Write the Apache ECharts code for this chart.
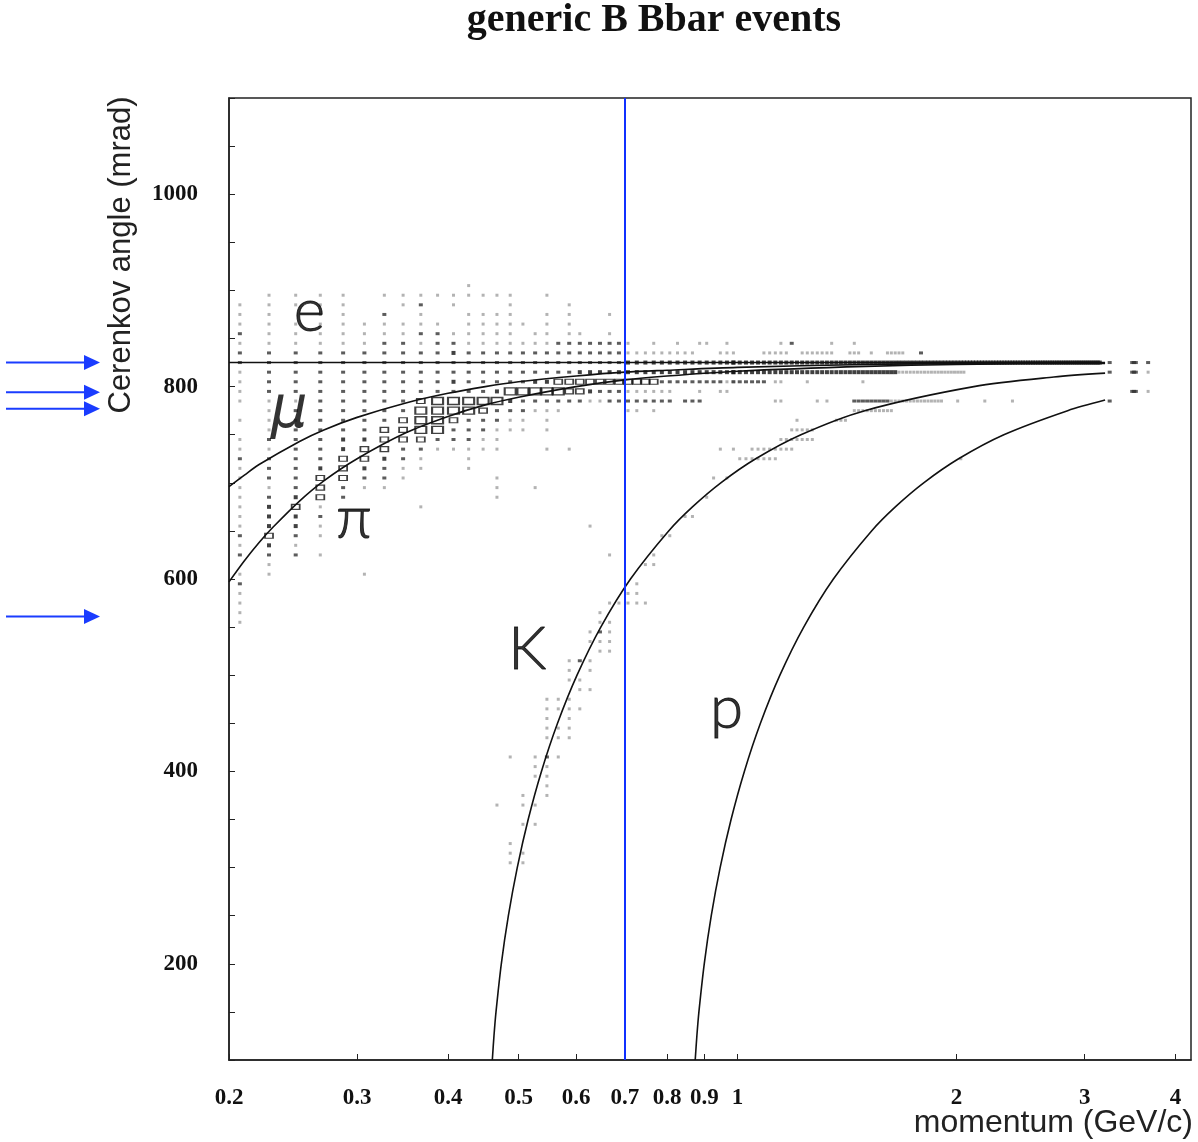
<!DOCTYPE html>
<html><head><meta charset="utf-8">
<script src="https://cdn.jsdelivr.net/npm/echarts@6/dist/echarts.min.js"></script>
<style>html,body{margin:0;padding:0;background:#fff}#c{width:1198px;height:1142px}</style>
</head><body><div id="c"></div>
<script>
// ---------------- text ----------------
const titleText = 'generic B Bbar events';
const yAxisTitle = 'Cerenkov angle (mrad)';
const xAxisTitle = 'momentum (GeV/c)';

// ---------------- axes ----------------
const xTickValues = [0.2, 0.3, 0.4, 0.5, 0.6, 0.7, 0.8, 0.9, 1, 2, 3, 4];
const yTickLabels = [200, 400, 600, 800, 1000];
const cutMomentum = 0.7;                 // blue vertical line
const arrowAngles = [825, 794, 777, 561]; // blue arrows at the left

// ---------------- expected Cerenkov angle curves ----------------
const eP     = [0.2, 3.15];
const eAngle = [825, 825];
const muP     = [0.2, 0.21, 0.22, 0.25, 0.27, 0.3, 0.35, 0.4, 0.45, 0.5, 0.6, 0.7, 0.8, 1.0, 1.5, 2, 3, 3.2];
const muAngle = [696, 708, 719, 743, 755, 768, 783, 793, 800, 805, 811, 815, 817, 820, 823, 824, 825, 825];
const piP     = [0.2, 0.21, 0.22, 0.23, 0.25, 0.27, 0.3, 0.35, 0.4, 0.45, 0.5, 0.6, 0.7, 0.8, 1.0, 1.5, 2, 3, 3.2];
const piAngle = [597, 619, 638, 654, 681, 702, 725, 752, 769, 781, 789, 800, 807, 811, 816, 821, 823, 824, 824];
const kP      = [0.4602, 0.4626, 0.4656, 0.4735, 0.4842, 0.4980, 0.5155, 0.5376, 0.5657, 0.6017, 0.6487, 0.7126, 0.8041, 0.8670, 0.9484, 1.0591, 1.2221, 1.4956, 2.1124, 2.7215, 3.2];
const kAngle  = [100, 125, 150, 200, 250, 300, 350, 400, 450, 500, 550, 600, 650, 675, 700, 725, 750, 775, 800, 810, 814];
const prP     = [0.8746, 0.8792, 0.8849, 0.9000, 0.9202, 0.9464, 0.9797, 1.0218, 1.0751, 1.1435, 1.2330, 1.3543, 1.5283, 1.6477, 1.8024, 2.0129, 2.3227, 2.8425, 3.2];
const prAngle = [100, 125, 150, 200, 250, 300, 350, 400, 450, 500, 550, 600, 650, 675, 700, 725, 750, 775, 786];

// ---------------- 2D histogram (box plot) ----------------
// momentum bins: 0.02 GeV/c wide, first bin centred at 0.207
const binP0 = 0.207;
const binDP = 0.02;
// angle rows (mrad), 10 mrad bins
const angleRows = [905, 895, 885, 875, 865, 855, 845, 835, 825, 815, 805, 795, 785, 775, 765, 755, 745, 735,
                   725, 715, 705, 695, 685, 675, 665, 655, 645, 635, 625, 615, 605, 595, 585, 575, 565, 555];
// one string per row, one char per momentum bin (k = 0..39), '.' empty, 1..5 box content level
const cellGrid = [
  "..........|.1........|..........|..........", // 905
  ".1111.1111|11111..1..|..........|..........", // 895
  "11111..12.|1...1....1|..........|..........", // 885
  "11.11.2.1.|.1111..1.1|...1......|..........", // 875
  "1111111111|.11111.1.1|..........|..........", // 865
  "2111111122|11111.11.1|1..1......|..........", // 855
  "1111112212|2111111122|222221..1.|.1..11..1.", // 845
  "2222222222|3222222222|2222211111|1111...111", // 835
  "2222222222|2222222222|2222233333|3333333333", // 825
  "1222222222|2222222222|3333333333|3333333333", // 815
  "1222222222|3222223344|4444444442|2222222211", // 805
  "1222222222|2223555554|4322211111|1...1..11.", // 795
  "1112222245|5555322222|2112222222|2.222.....", // 785
  ".122222255|554222111.|.....11.1.|..........", // 775
  "1112222455|422211.1..|..........|..........", // 765
  ".122224455|222111.1..|..........|..........", // 755
  "1222334442|2211......|..........|..........", // 745
  "1122344221|1111...1.1|..........|.......1.1", // 735
  "222244321.|.1........|..........|..........", // 725
  "122343211.|.1........|..........|..........", // 715
  "12244221..|...1......|..........|......1.1.", // 705
  "1124211...|...1..1...|..........|..........", // 695
  "12342.....|...1......|..........|.....1....", // 685
  "1341....1.|..........|..........|..........", // 675
  "1332......|..........|..........|..11......", // 665
  "1331......|..........|.1........|..........", // 655
  "2421......|..........|.........1|1.........", // 645
  "131.......|..........|..........|..........", // 635
  "2221......|..........|...1....1.|..........", // 625
  ".1........|..........|.......11.|..........", // 615
  "11...1....|..........|..........|..........", // 605
  "2.........|..........|......1...|..........", // 595
  "1.........|..........|.....11...|..........", // 585
  "1.........|..........|...11111..|..........", // 575
  "1.........|..........|..1.......|..........", // 565
  "1.........|..........|..11......|.........."  // 555
];
// runs of filled bins above 1 GeV/c: [pFrom, pTo, angle, level]
const farRuns = [
  [0.99, 3.15, 825, 3], [3.25, 3.25, 825, 2], [3.49, 3.53, 825, 2], [3.66, 3.66, 825, 2],
  [0.99, 1.65, 815, 3], [1.67, 2.05, 815, 1], [3.25, 3.25, 815, 2], [3.49, 3.53, 815, 2], [3.66, 3.66, 815, 1],
  [0.99, 1.08, 805, 2], [1.12, 1.12, 805, 1], [1.15, 1.15, 805, 1], [1.24, 1.24, 805, 1], [1.48, 1.48, 805, 1],
  [1.09, 1.17, 835, 1], [1.22, 1.35, 835, 1], [1.43, 1.47, 835, 1], [1.53, 1.53, 835, 1], [1.61, 1.69, 835, 1], [1.79, 1.79, 835, 2],
  [1.14, 1.14, 845, 1], [1.18, 1.18, 845, 2], [1.35, 1.35, 845, 1], [1.45, 1.45, 845, 1],
  [3.49, 3.53, 795, 2], [3.66, 3.66, 795, 1],
  [1.12, 1.14, 785, 1], [1.28, 1.28, 785, 1], [1.33, 1.33, 785, 1], [1.44, 1.60, 785, 2], [1.62, 1.91, 785, 1],
  [2.0, 2.0, 785, 1], [2.19, 2.19, 785, 1], [2.38, 2.38, 785, 1], [3.25, 3.25, 785, 2],
  [1.45, 1.62, 775, 1], [1.20, 1.20, 765, 1], [1.37, 1.41, 765, 1], [1.18, 1.26, 755, 1],
  [1.15, 1.27, 745, 1], [1.05, 1.19, 735, 1], [1.00, 1.12, 725, 1], [2.03, 2.03, 725, 1]
];
// kaon band entries below 550 mrad: [p, angle, level]
const bandCells = [
  [0.627, 545, 1], [0.647, 545, 2], [0.667, 545, 1],
  [0.627, 535, 1], [0.647, 535, 1], [0.667, 535, 1],
  [0.647, 525, 1], [0.667, 525, 1],
  [0.587, 515, 1], [0.607, 515, 2], [0.627, 515, 1],
  [0.587, 505, 1], [0.627, 505, 1],
  [0.587, 495, 1], [0.607, 495, 1],
  [0.607, 485, 1], [0.627, 485, 1],
  [0.547, 475, 1], [0.567, 475, 1], [0.587, 475, 1],
  [0.547, 465, 1], [0.567, 465, 1], [0.587, 465, 1], [0.607, 465, 1],
  [0.547, 455, 1], [0.587, 455, 1],
  [0.547, 445, 1], [0.567, 445, 1], [0.587, 445, 1],
  [0.547, 435, 1], [0.567, 435, 1], [0.587, 435, 1],
  [0.487, 415, 1], [0.527, 415, 1], [0.547, 415, 2], [0.567, 415, 1],
  [0.527, 405, 1], [0.547, 405, 1],
  [0.527, 395, 1], [0.547, 395, 1],
  [0.547, 385, 1],
  [0.507, 375, 1], [0.547, 375, 1],
  [0.467, 365, 1], [0.507, 365, 1], [0.527, 365, 1],
  [0.507, 345, 1], [0.527, 345, 1],
  [0.487, 325, 1],
  [0.487, 315, 1], [0.507, 315, 1],
  [0.487, 305, 1], [0.507, 305, 1]
];
// particle labels: [text, p, angle]
const curveLabels = [['e', 0.258, 878], ['μ', 0.242, 774], ['π', 0.297, 663], ['K', 0.514, 527], ['p', 0.966, 465]];

// ---------------- build ----------------
function binCenter(k) { return +(binP0 + binDP * k).toFixed(3); }
const cells = { 1: [], 2: [], 3: [], 4: [], 5: [], 6: [] };
cellGrid.forEach((row, j) => {
  const s = row.replace(/\|/g, '');
  for (let k = 0; k < s.length; k++) {
    const c = s[k];
    if (c !== '.') cells[+c].push([binCenter(k), angleRows[j]]);
  }
});
farRuns.forEach(([a, b, ang, lev]) => {
  const k0 = Math.round((a - binP0) / binDP), k1 = Math.round((b - binP0) / binDP);
  for (let k = k0; k <= k1; k++) cells[lev].push([binCenter(k), ang]);
});
bandCells.forEach(([p, ang, lev]) => cells[lev].push([p, ang]));

const levelStyle = {
  1: { size: [3, 3], color: '#a0a0a0' },
  2: { size: [4, 3], color: '#333' },
  3: { size: [4, 4], color: '#111' },
  4: { size: [8, 5], hollow: true, bw: 1.4 },
  5: { size: [11, 7], hollow: true, bw: 1.7 },
  6: { size: [12, 8], hollow: true, bw: 1.7 }
};

const zip = (xs, ys) => xs.map((x, i) => [x, ys[i]]);
const series = [];
Object.keys(cells).forEach(l => {
  const st = levelStyle[l];
  if (!cells[l].length) return;
  series.push({
    type: 'scatter', name: 'lvl' + l, data: cells[l], symbol: 'rect', symbolSize: st.size,
    silent: true, z: 2,
    itemStyle: st.hollow ? { color: 'rgba(255,255,255,0)', borderColor: '#111', borderWidth: st.bw }
                         : { color: st.color }
  });
});
const lineStyle = { color: '#111', width: 1.6 };
[[eP, eAngle], [muP, muAngle], [piP, piAngle], [kP, kAngle], [prP, prAngle]].forEach(([xs, ys]) => {
  series.push({ type: 'line', data: zip(xs, ys), showSymbol: false, smooth: 0.3, lineStyle, silent: true, z: 3 });
});
series.push({
  type: 'line', data: [], silent: true,
  markLine: { symbol: 'none', silent: true, label: { show: false },
    lineStyle: { color: '#1030ff', width: 2, type: 'solid' }, data: [{ xAxis: cutMomentum }] }
});
series.push({
  type: 'scatter', symbolSize: 1, silent: true, z: 4, itemStyle: { color: 'rgba(0,0,0,0)' },
  data: curveLabels.map(([t, p, a]) => ({
    name: t, value: [p, a],
    label: t === 'μ' ? { fontStyle: 'italic', fontFamily: 'DejaVu Sans', fontSize: 58, fontWeight: 'normal',
                         textBorderWidth: 0 } : {}
  })),
  label: { show: true, position: 'inside', formatter: '{b}', fontSize: 60, color: '#000',
           fontFamily: 'Lato', fontWeight: 300, textBorderColor: '#000', textBorderWidth: 0.9 }
});

const chart = echarts.init(document.getElementById('c'), null, { renderer: 'canvas' });
const labelFont = { fontFamily: 'Liberation Serif', fontWeight: 'bold', fontSize: 23, color: '#111' };
chart.setOption({
  animation: false,
  backgroundColor: '#fff',
  grid: { left: 229, right: 7, top: 98, bottom: 82, show: true, borderColor: '#222', borderWidth: 1.5 },
  xAxis: {
    type: 'log', logBase: 10, min: 0.2, max: 4.2,
    axisLine: { show: true, lineStyle: { color: '#222', width: 1.5 } },
    axisTick: { show: true, inside: true, length: 6, lineStyle: { color: '#222' }, customValues: xTickValues },
    axisLabel: Object.assign({ margin: 27, customValues: xTickValues,
      formatter: v => String(Math.round(v * 10) / 10) }, labelFont),
    splitLine: { show: false }, minorTick: { show: false }
  },
  yAxis: {
    type: 'value', min: 100, max: 1100, interval: 50,
    axisLine: { show: true, lineStyle: { color: '#222', width: 1.5 } },
    axisTick: { show: true, inside: true, length: 6, lineStyle: { color: '#222' } },
    axisLabel: Object.assign({ margin: 31, formatter: v => yTickLabels.includes(v) ? String(v) : '' }, labelFont),
    splitLine: { show: false }
  },
  series
});

const g = [];
g.push({ type: 'text', x: 654, y: 21, style: { text: titleText, font: 'bold 40px "Liberation Serif"',
  fill: '#111', align: 'center', verticalAlign: 'middle' } });
g.push({ type: 'text', x: 121, y: 255, rotation: Math.PI / 2, style: { text: yAxisTitle,
  font: '31px "Liberation Sans"', fill: '#222', align: 'center', verticalAlign: 'middle' } });
g.push({ type: 'text', x: 1193, y: 1123, style: { text: xAxisTitle,
  font: '32px "Liberation Sans"', fill: '#222', align: 'right', verticalAlign: 'middle' } });
arrowAngles.forEach(a => {
  const y = chart.convertToPixel({ yAxisIndex: 0 }, a);
  g.push({ type: 'line', shape: { x1: 6, y1: y, x2: 86, y2: y }, style: { stroke: '#1a3cff', lineWidth: 2 } });
  g.push({ type: 'polygon', shape: { points: [[84, y - 7.5], [100, y], [84, y + 7.5]] }, style: { fill: '#1a3cff' } });
});
chart.setOption({ graphic: g });
</script></body></html>
